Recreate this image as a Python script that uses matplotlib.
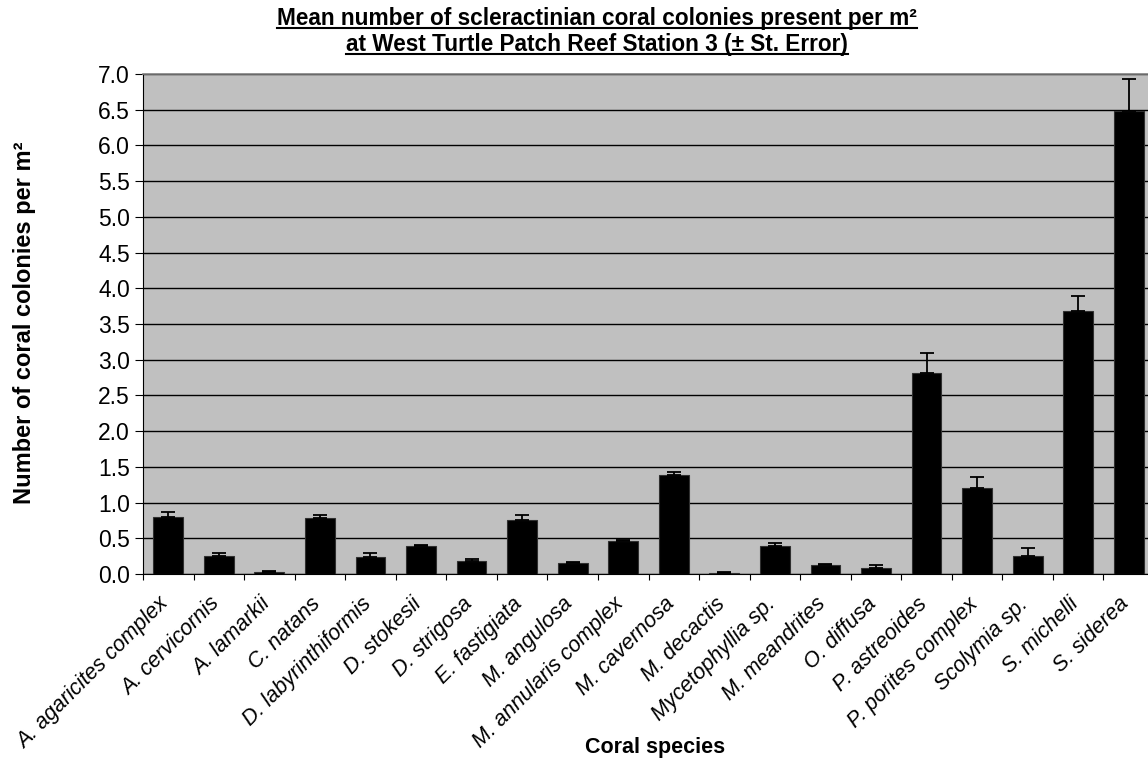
import matplotlib
matplotlib.use("Agg")
import matplotlib.pyplot as plt
from matplotlib.lines import Line2D
import numpy as np

species = [
    "A. agaricites complex", "A. cervicornis", "A. lamarkii", "C. natans",
    "D. labyrinthiformis", "D. stokesii", "D. strigosa", "E. fastigiata",
    "M. angulosa", "M. annularis complex", "M. cavernosa", "M. decactis",
    "Mycetophyllia sp.", "M. meandrites", "O. diffusa", "P. astreoides",
    "P. porites complex", "Scolymia sp.", "S. michelli", "S. siderea",
]
mean_density = [0.80, 0.25, 0.03, 0.78, 0.24, 0.39, 0.18, 0.75, 0.15, 0.46,
                1.38, 0.02, 0.39, 0.12, 0.08, 2.82, 1.21, 0.25, 3.68, 6.48]
std_error = [0.07, 0.04, 0.01, 0.04, 0.05, 0.01, 0.03, 0.08, 0.02, 0.02,
             0.05, 0.01, 0.04, 0.02, 0.04, 0.27, 0.15, 0.12, 0.21, 0.45]
y_ticks = [0.0, 0.5, 1.0, 1.5, 2.0, 2.5, 3.0, 3.5, 4.0, 4.5, 5.0, 5.5, 6.0, 6.5, 7.0]

plt.rcParams["font.family"] = ["Liberation Sans", "DejaVu Sans"]

W, H = 1148, 765
fig = plt.figure(figsize=(W / 100, H / 100), dpi=100)
ax = fig.add_axes([143 / W, 1 - 574 / H, 1011 / W, 500 / H])
ax.set_facecolor("#C0C0C0")

x = np.arange(len(species))
ax.bar(x, mean_density, width=0.59, color="black", edgecolor="#303030",
       linewidth=0.8, zorder=3)
ax.errorbar(x, mean_density, yerr=[np.zeros(len(x)), std_error], fmt="none",
            ecolor="black", elinewidth=1.3, capsize=5, capthick=1.3, zorder=4)

ax.set_xlim(-0.5, len(species) - 0.5)
ax.set_ylim(0, 7.0)
ax.set_yticks(y_ticks)
ax.set_yticklabels([f"{v:.1f}" for v in y_ticks], fontsize=16.5)
ax.yaxis.grid(True, color="black", linewidth=1.0, zorder=1)
ax.set_axisbelow(True)

# category ticks sit between the bars; labels hang below each bar centre
ax.set_xticks(np.arange(len(species) + 1) - 0.5)
ax.set_xticklabels([])
ax.set_xticks(x - 0.2, minor=True)
ax.set_xticklabels(species, minor=True, rotation=45, ha="right", va="top",
                   rotation_mode="anchor", fontsize=15.5, style="italic")
ax.tick_params(axis="x", which="minor", length=0, pad=14)
ax.tick_params(axis="x", which="major", length=4.5, width=0.8, direction="out")
ax.tick_params(axis="y", length=5.5, width=0.8, direction="out", pad=4)

ax.spines["right"].set_visible(False)
ax.spines["top"].set_color("#808080")
ax.spines["top"].set_linewidth(1.2)

fig.text(25 / W, 1 - 323 / H, "Number of coral colonies per m²", rotation=90,
         ha="center", va="center", fontsize=17, fontweight="bold")
fig.text(655 / W, 1 - 748 / H, "Coral species", ha="center", va="center",
         fontsize=15.5, fontweight="bold")

# underlined two-line title
title_lines = ["Mean number of scleractinian coral colonies present per m²",
               "at West Turtle Patch Reef Station 3 (± St. Error)"]
title_y = [1 - 18 / H, 1 - 44 / H]
cx = 597 / W
renderer = fig.canvas.get_renderer()
for line, ty in zip(title_lines, title_y):
    t = fig.text(cx, ty, line, ha="center", va="center", fontsize=16.3,
                 fontweight="bold")
    bb = t.get_window_extent(renderer=renderer)
    uy = (bb.y0 + 2) / H
    fig.add_artist(Line2D([bb.x0 / W, bb.x1 / W], [uy, uy],
                          transform=fig.transFigure, color="black", linewidth=1.5))

fig.savefig("out.png", dpi=100)
